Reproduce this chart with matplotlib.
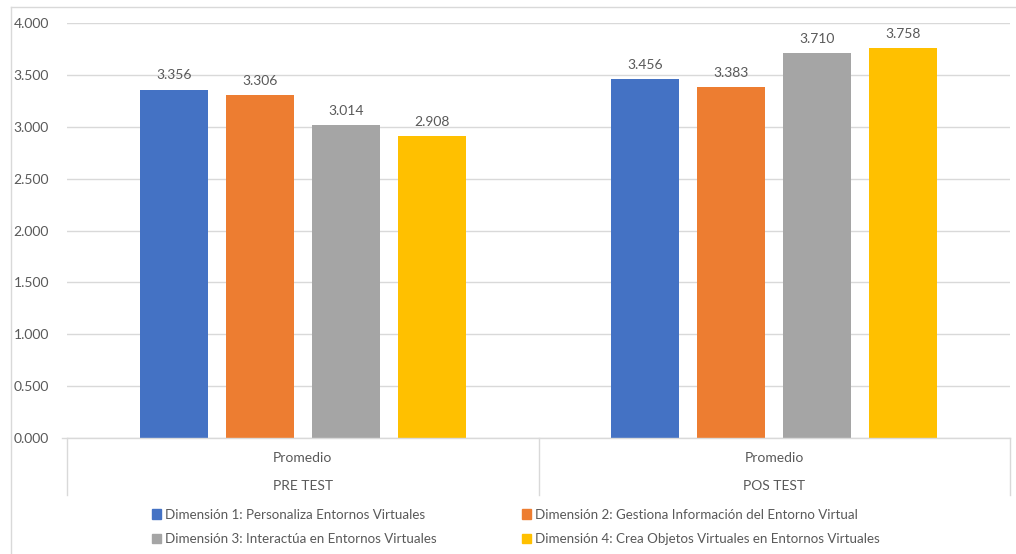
import numpy as np
import matplotlib.pyplot as plt
from matplotlib.lines import Line2D
from matplotlib.patches import Patch

plt.rcParams['font.family'] = ['Lato', 'DejaVu Sans']

# data
groups = ["PRE TEST", "POS TEST"]
sub_label = "Promedio"
series = ["Dimensión 1: Personaliza Entornos Virtuales",
          "Dimensión 2: Gestiona Información del Entorno Virtual",
          "Dimensión 3: Interactúa en Entornos Virtuales",
          "Dimensión 4: Crea Objetos Virtuales en Entornos Virtuales"]
dim1 = [3.356, 3.456]
dim2 = [3.306, 3.383]
dim3 = [3.014, 3.710]
dim4 = [2.908, 3.758]
colors = ['#4472c4', '#ed7d31', '#a5a5a5', '#ffc000']
yticks = [0.0, 0.5, 1.0, 1.5, 2.0, 2.5, 3.0, 3.5, 4.0]

txt = '#595959'
grid = '#d9d9d9'
W, H = 1016, 554

fig = plt.figure(figsize=(W/100, H/100), dpi=100)
ax = fig.add_axes([67/W, 1-438/H, (1010-67)/W, (438-23)/H])

x = np.arange(len(groups))
width = 68/471.5
step = 86/471.5
allvals = [dim1, dim2, dim3, dim4]
for k, vals in enumerate(allvals):
    pos = x + (k-1.5)*step
    bars = ax.bar(pos, vals, width, color=colors[k], label=series[k], zorder=3)
    for b, v in zip(bars, vals):
        ax.annotate(("%.3f" % v), (b.get_x()+b.get_width()/2, v),
                    xytext=(0, 6), textcoords='offset points',
                    ha='center', va='bottom', color=txt, fontsize=10)

ax.set_xlim(-0.5, len(groups)-0.5)
ax.set_ylim(0, 4.0)
ax.set_yticks(yticks)
ax.set_yticklabels(["%.3f" % t for t in yticks])
ax.tick_params(axis='y', length=0, pad=13, labelcolor=txt, labelsize=10)
ax.set_xticks([])
ax.yaxis.grid(True, color=grid, linewidth=1, zorder=0)
for s in ax.spines.values():
    s.set_visible(False)

# multi-level category axis
ax.plot([-0.5-5/471.5, len(groups)-0.5], [0, 0], color=grid, lw=1,
        clip_on=False, zorder=4)
sep_depth = 57/415*4.0
for i in range(len(groups)+1):
    ax.plot([i-0.5, i-0.5], [0, -sep_depth], color=grid, lw=1, clip_on=False)
for i, g in enumerate(groups):
    ax.text(i, -20/415*4.0, sub_label, ha='center', va='center',
            color=txt, fontsize=10)
    ax.text(i, -48/415*4.0, g, ha='center', va='center',
            color=txt, fontsize=10)

# legend, filled row by row like the original (matplotlib fills by column)
handles = [Patch(color=c) for c in colors]
order = [0, 2, 1, 3]
fig.legend([handles[i] for i in order], [series[i] for i in order],
           loc='center', bbox_to_anchor=(516/W, 1-527/H),
           ncol=2, frameon=False, fontsize=9.6, labelcolor=txt,
           handlelength=0.7, handleheight=0.7, handletextpad=0.3,
           columnspacing=6.4, labelspacing=0.95)

# chart border
fig.add_artist(Line2D([11/W, 11/W], [0, 1-7/H], color=grid, lw=1))
fig.add_artist(Line2D([11/W, 1], [1-7/H, 1-7/H], color=grid, lw=1))

fig.savefig('out.png', dpi=100)
